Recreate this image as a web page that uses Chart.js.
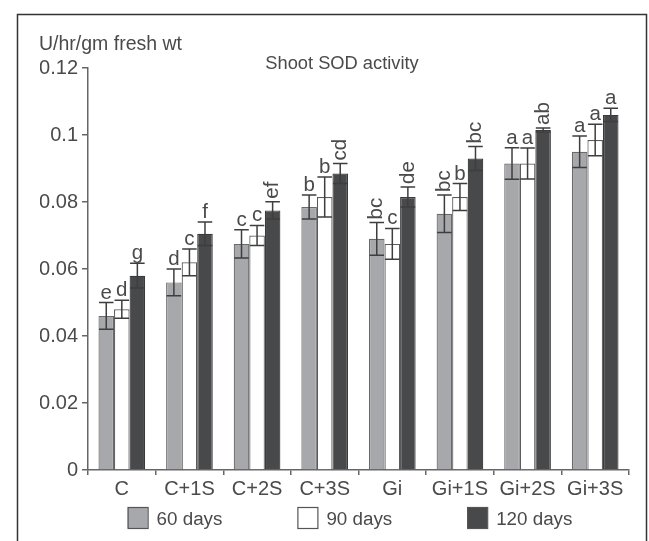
<!DOCTYPE html>
<html>
<head>
<meta charset="utf-8">
<script src="https://cdn.jsdelivr.net/npm/chart.js@4/dist/chart.umd.min.js"></script>
<style>
  html, body { margin: 0; padding: 0; background: #fff; }
  canvas { display: block; }
</style>
</head>
<body>
<canvas id="c" width="649" height="541"></canvas>
<script>
// Treatments on the x axis
const categories = ['C', 'C+1S', 'C+2S', 'C+3S', 'Gi', 'Gi+1S', 'Gi+2S', 'Gi+3S'];
const seriesNames = ['60 days', '90 days', '120 days'];

// Shoot SOD activity (U/hr/gm fresh wt), mean values
const days60  = [0.046, 0.056, 0.0675, 0.0785, 0.069, 0.0765, 0.0915, 0.095];
const days90  = [0.048, 0.062, 0.070, 0.0815, 0.0675, 0.0815, 0.0915, 0.0985];
const days120 = [0.058, 0.0705, 0.0775, 0.0885, 0.0815, 0.093, 0.1015, 0.106];

// Standard errors
const err60  = [0.004, 0.004, 0.0042, 0.0036, 0.0049, 0.0056, 0.0047, 0.0047];
const err90  = [0.0027, 0.004, 0.003, 0.006, 0.0046, 0.004, 0.0046, 0.0047];
const err120 = [0.0037, 0.0035, 0.0026, 0.003, 0.003, 0.0036, 0.0006, 0.002];

// Significance letters
const sig60  = ['e', 'd', 'c', 'b', 'bc', 'bc', 'a', 'a'];
const sig90  = ['d', 'c', 'c', 'b', 'c', 'b', 'a', 'a'];
const sig120 = ['g', 'f', 'ef', 'cd', 'de', 'bc', 'ab', 'a'];

// Y-axis tick labels
const yTickValues = [0, 0.02, 0.04, 0.06, 0.08, 0.1, 0.12];
const yTickLabels = ['0', '0.02', '0.04', '0.06', '0.08', '0.1', '0.12'];

const unitLabel = 'U/hr/gm fresh wt';
const chartTitle = 'Shoot SOD activity';

const FONT = '"Liberation Sans", Arial, sans-serif';
const TEXT = '#4a4a4a';
const AXIS = '#666666';

// Frame, unit label, title and legend
const decorations = {
  id: 'decorations',
  beforeDraw(chart) {
    const ctx = chart.ctx;
    ctx.save();
    ctx.fillStyle = '#fff';
    ctx.fillRect(0, 0, chart.width, chart.height);
    ctx.strokeStyle = '#333';
    ctx.lineWidth = 1.5;
    ctx.strokeRect(17.5, 14.5, 629, 540);
    ctx.restore();
  },
  afterDraw(chart) {
    const ctx = chart.ctx;
    ctx.save();
    ctx.fillStyle = TEXT;
    ctx.textBaseline = 'alphabetic';
    ctx.font = '19.5px ' + FONT;
    ctx.textAlign = 'left';
    ctx.fillText(unitLabel, 39, 50);
    ctx.font = '18.3px ' + FONT;
    ctx.textAlign = 'center';
    ctx.fillText(chartTitle, 342, 69);

    // legend
    ctx.font = '18.8px ' + FONT;
    const box = 20, gap = 75, textOff = 29;
    const widths = chart.data.datasets.map(d => box + 9 + ctx.measureText(d.label).width);
    const total = widths.reduce((a, b) => a + b, 0) + gap * (widths.length - 1);
    let x = 350 - total / 2;
    chart.data.datasets.forEach((d, i) => {
      ctx.fillStyle = d.backgroundColor;
      ctx.fillRect(x, 507, box, 21);
      ctx.strokeStyle = '#555';
      ctx.lineWidth = 1.2;
      ctx.strokeRect(x + 0.5, 507.5, box, 21);
      ctx.fillStyle = TEXT;
      ctx.textAlign = 'left';
      ctx.fillText(d.label, x + textOff, 525);
      x += widths[i] + gap;
    });
    ctx.restore();
  }
};

// Error bars and significance letters above each bar
const errorBars = {
  id: 'errorBars',
  afterDatasetsDraw(chart) {
    const ctx = chart.ctx;
    const ys = chart.scales.y;
    chart.data.datasets.forEach((ds, i) => {
      const meta = chart.getDatasetMeta(i);
      meta.data.forEach((bar, j) => {
        const v = ds.data[j], e = ds.errors[j];
        const x = bar.x, half = bar.width / 2 - 0.5;
        const yTop = ys.getPixelForValue(v + e);
        const yBot = ys.getPixelForValue(v - e);
        ctx.save();
        ctx.strokeStyle = '#3e3e3e';
        ctx.lineWidth = 1.5;
        ctx.beginPath();
        ctx.moveTo(x, yTop); ctx.lineTo(x, yBot);
        ctx.moveTo(x - half, yTop); ctx.lineTo(x + half, yTop);
        ctx.moveTo(x - half, yBot); ctx.lineTo(x + half, yBot);
        ctx.stroke();

        const s = ds.letters[j];
        ctx.fillStyle = TEXT;
        ctx.font = '20.5px ' + FONT;
        if (s.length === 1) {
          ctx.textAlign = 'center';
          ctx.textBaseline = 'alphabetic';
          ctx.fillText(s, x, yTop - 4);
        } else {
          ctx.translate(x, yTop - 3);
          ctx.rotate(-Math.PI / 2);
          ctx.textAlign = 'left';
          ctx.textBaseline = 'middle';
          ctx.fillText(s, 0, 0);
        }
        ctx.restore();
      });
    });
  }
};

const values = [days60, days90, days120];
const errors = [err60, err90, err120];
const letters = [sig60, sig90, sig120];
const fills = ['#a7a8ab', '#ffffff', '#48494b'];
const borders = ['#6a6a6c', '#5a5a5a', '#3a3a3c'];

new Chart(document.getElementById('c'), {
  type: 'bar',
  data: {
    labels: categories,
    datasets: seriesNames.map((name, i) => ({
      label: name,
      data: values[i],
      errors: errors[i],
      letters: letters[i],
      backgroundColor: fills[i],
      borderColor: borders[i],
      borderWidth: 1.2,
      categoryPercentage: 0.69,
      barPercentage: 1.0
    }))
  },
  options: {
    responsive: false,
    devicePixelRatio: 1,
    animation: false,
    layout: { padding: { left: 40, right: 20, top: 68, bottom: 0 } },
    plugins: {
      legend: { display: false },
      title: { display: false },
      tooltip: { enabled: false }
    },
    scales: {
      x: {
        afterFit: s => { s.height = 71; },
        border: { display: true, color: AXIS, width: 1.5 },
        grid: { display: true, drawOnChartArea: false, drawTicks: true, tickLength: 5, color: AXIS, lineWidth: 1.5, offset: true },
        ticks: { color: TEXT, font: { family: FONT, size: 20 }, padding: 2, maxRotation: 0, autoSkip: false }
      },
      y: {
        min: 0,
        max: 0.12,
        afterFit: s => { s.width = 48; },
        afterBuildTicks: s => { s.ticks = yTickValues.map(v => ({ value: v })); },
        border: { display: true, color: AXIS, width: 1.5 },
        grid: { display: true, drawOnChartArea: false, drawTicks: true, tickLength: 6, color: AXIS, lineWidth: 1.5 },
        ticks: {
          color: TEXT,
          font: { family: FONT, size: 20 },
          padding: 4,
          callback: (v) => {
            const k = yTickValues.findIndex(t => Math.abs(t - v) < 1e-9);
            return k >= 0 ? yTickLabels[k] : '';
          }
        }
      }
    }
  },
  plugins: [decorations, errorBars]
});
</script>
</body>
</html>
